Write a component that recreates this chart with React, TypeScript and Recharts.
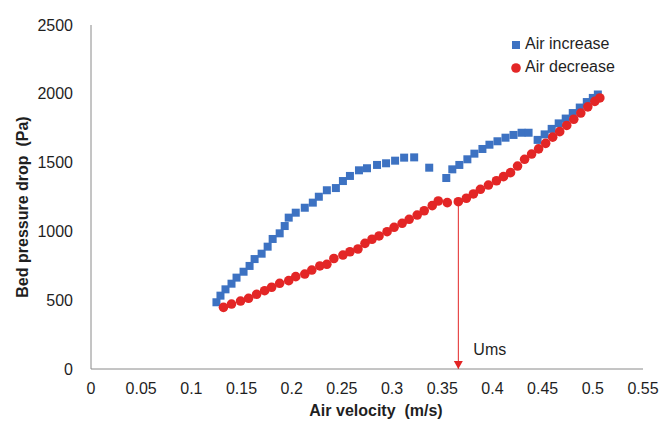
import {
  ScatterChart,
  Scatter,
  XAxis,
  YAxis,
  Legend,
  ReferenceLine,
  ReferenceDot,
  Label,
} from "recharts";

const FONT = '"Liberation Sans", Arial, sans-serif';
const TEXT = "#1f1f1f";
const AXIS = "#8a8a8a";
const BLUE = "#3d72c2";
const RED = "#e32626";

const xTicks = [0, 0.05, 0.1, 0.15, 0.2, 0.25, 0.3, 0.35, 0.4, 0.45, 0.5, 0.55];
const yTicks = [0, 500, 1000, 1500, 2000, 2500];

// air increase (blue squares)
const increaseVelocity = [
  0.125, 0.129, 0.134, 0.14, 0.145, 0.152, 0.158, 0.163, 0.17, 0.176, 0.181,
  0.188, 0.193, 0.197, 0.204, 0.213, 0.221, 0.227, 0.235, 0.244, 0.251, 0.258,
  0.267, 0.275, 0.285, 0.294, 0.303, 0.312, 0.322, 0.337, 0.354, 0.36, 0.367,
  0.375, 0.382, 0.39, 0.397, 0.405, 0.413, 0.421, 0.429, 0.436, 0.445, 0.452,
  0.459, 0.466, 0.473, 0.48, 0.487, 0.494, 0.5, 0.505,
];
const increasePressure = [
  485, 533, 579, 620, 664, 707, 749, 799, 838, 889, 945, 986, 1039, 1100, 1136,
  1172, 1209, 1252, 1299, 1315, 1366, 1403, 1444, 1459, 1483, 1495, 1514, 1536,
  1538, 1463, 1388, 1451, 1483, 1524, 1565, 1599, 1630, 1655, 1681, 1701, 1717,
  1717, 1665, 1705, 1745, 1785, 1820, 1860, 1900, 1940, 1970, 1995,
];

// air decrease (red circles)
const decreaseVelocity = [
  0.132, 0.14, 0.149, 0.157, 0.165, 0.173, 0.18, 0.188, 0.197, 0.204, 0.213,
  0.22, 0.228, 0.235, 0.242, 0.251, 0.258, 0.266, 0.273, 0.28, 0.287, 0.295,
  0.302, 0.31, 0.317, 0.325, 0.332, 0.34, 0.346, 0.355, 0.366, 0.374, 0.381,
  0.388, 0.396, 0.404, 0.411, 0.418, 0.425, 0.432, 0.439, 0.446, 0.453, 0.46,
  0.467, 0.474, 0.481, 0.488, 0.495, 0.502, 0.507,
];
const decreasePressure = [
  448, 472, 494, 514, 543, 569, 594, 623, 642, 671, 690, 719, 749, 761, 803,
  828, 852, 872, 913, 943, 967, 998, 1030, 1059, 1088, 1119, 1150, 1187, 1221,
  1209, 1216, 1241, 1272, 1306, 1337, 1368, 1398, 1427, 1475, 1524, 1562, 1600,
  1640, 1685, 1725, 1770, 1815, 1860, 1905, 1945, 1970,
];

const umsVelocity = 0.366;
const umsPressure = 1216;

const increaseData = increaseVelocity.map((x, i) => ({ x, y: increasePressure[i] }));
const decreaseData = decreaseVelocity.map((x, i) => ({ x, y: decreasePressure[i] }));

const Square = (props: any) => (
  <rect x={props.cx - 4} y={props.cy - 4} width={8} height={8} fill={BLUE} />
);
const Dot = (props: any) => <circle cx={props.cx} cy={props.cy} r={4.8} fill={RED} />;
const ArrowHead = (props: any) => (
  <path
    d={`M${props.cx - 4.5},${props.cy - 8} L${props.cx + 4.5},${props.cy - 8} L${props.cx},${props.cy} Z`}
    fill={RED}
  />
);

const renderLegend = () => (
  <div style={{ fontFamily: FONT, fontSize: 16, color: TEXT }}>
    {[
      { name: "Air increase", color: BLUE, square: true },
      { name: "Air decrease", color: RED, square: false },
    ].map((item) => (
      <div key={item.name} style={{ height: 23, lineHeight: "23px", whiteSpace: "nowrap" }}>
        <svg width={10} height={10} style={{ marginRight: 4, verticalAlign: "-1px" }}>
          {item.square ? (
            <rect x={1} y={1} width={8} height={8} fill={item.color} />
          ) : (
            <circle cx={5} cy={5} r={4.8} fill={item.color} />
          )}
        </svg>
        {item.name}
      </div>
    ))}
  </div>
);

const YTitle = (props: any) => {
  const vb = props.viewBox;
  const cy = vb.y + vb.height / 2 + 10;
  return (
    <text
      x={22}
      y={cy}
      transform={`rotate(-90, 22, ${cy})`}
      textAnchor="middle"
      dominantBaseline="central"
      fontFamily={FONT}
      fontSize={16}
      fontWeight="bold"
      fill={TEXT}
      style={{ whiteSpace: "pre" }}
    >
      {"Bed pressure drop  (Pa)"}
    </text>
  );
};

export default function App() {
  return (
    <div style={{ position: "absolute", left: 0, top: 0, background: "#fff" }}>
      <ScatterChart
        width={665}
        height={424}
        margin={{ top: 25, right: 22, bottom: 0, left: 0 }}
      >
        <XAxis
          type="number"
          dataKey="x"
          domain={[0, 0.55]}
          ticks={xTicks}
          interval={0}
          tickLine={false}
          tickSize={0}
          tickMargin={14}
          height={55}
          stroke={AXIS}
          tick={{ fontSize: 16, fill: TEXT, fontFamily: FONT }}
        >
          <Label
            value={"Air velocity\u00A0 (m/s)"}
            position="insideBottom"
            offset={8}
            dx={9}
            style={{ fontFamily: FONT, fontSize: 16, fontWeight: "bold", fill: TEXT }}
          />
        </XAxis>
        <YAxis
          type="number"
          dataKey="y"
          domain={[0, 2500]}
          ticks={yTicks}
          interval={0}
          width={91}
          tickLine={false}
          tickSize={0}
          tickMargin={18}
          stroke={AXIS}
          tick={{ fontSize: 16, fill: TEXT, fontFamily: FONT }}
        >
          <Label content={YTitle} />
        </YAxis>
        <Legend
          layout="vertical"
          align="center"
          verticalAlign="middle"
          wrapperStyle={{ top: 32, left: 511, width: 140, bottom: "auto", right: "auto" }}
          content={renderLegend}
        />
        <ReferenceLine
          segment={[
            { x: umsVelocity, y: umsPressure },
            { x: umsVelocity, y: 0 },
          ]}
          stroke={RED}
          strokeWidth={1}
        />
        <ReferenceDot
          x={umsVelocity}
          y={0}
          shape={ArrowHead}
          label={{
            value: "Ums",
            position: "right",
            dx: 0,
            dy: -20,
            style: { fontFamily: FONT, fontSize: 16, fill: TEXT },
          }}
        />
        <Scatter
          name="Air increase"
          data={increaseData}
          shape={Square}
          isAnimationActive={false}
        />
        <Scatter
          name="Air decrease"
          data={decreaseData}
          shape={Dot}
          isAnimationActive={false}
        />
      </ScatterChart>
    </div>
  );
}
